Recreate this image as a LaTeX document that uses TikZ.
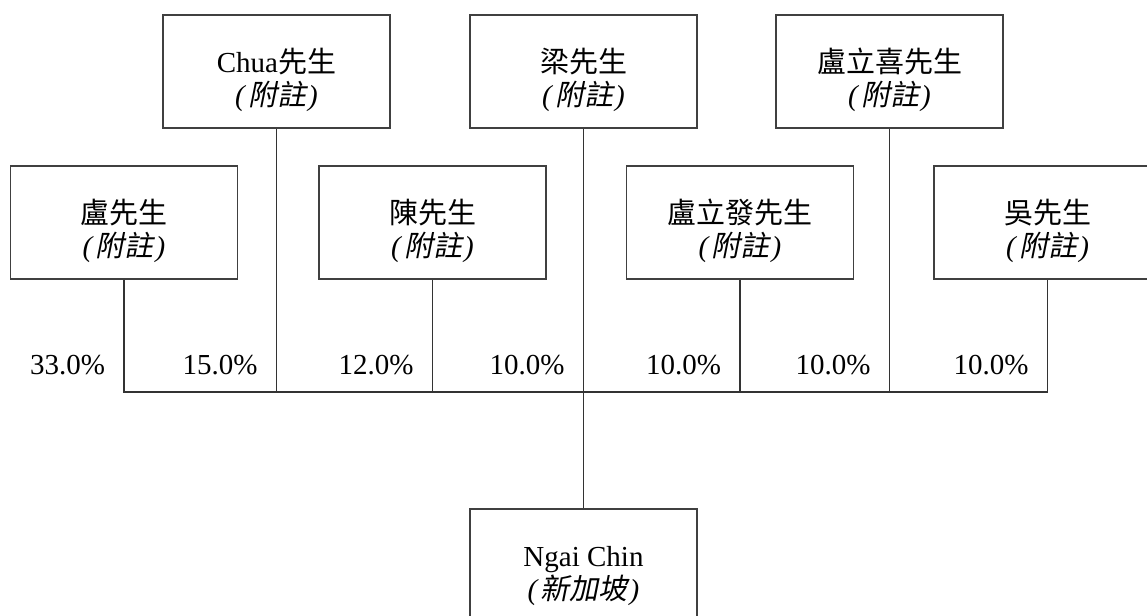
\documentclass[tikz,border=0pt]{standalone}
\usepackage{fontspec}
\setmainfont{Liberation Serif}
\newfontfamily\cjk{Noto Sans CJK TC}
\newfontfamily\cjkit[FakeSlant=0.2]{Noto Sans CJK TC}
\newcommand{\tstrut}{\rule{0pt}{20.5pt}}
\newcommand{\note}{\textit{(}\hspace{1pt}{\cjkit 附註}\hspace{1pt}\textit{)}}
\begin{document}
\begin{tikzpicture}[x=0.5pt, y=-0.5pt,
    % Styles
    holder/.style={draw=black!75, line width=0.65pt, minimum width=113.5pt, minimum height=56.5pt,
                   inner sep=0pt, align=center, font=\fontsize{14.5}{16.5}\selectfont},
    link/.style={draw=black!80, line width=0.6pt},
    pct/.style={anchor=base east, xshift=-6pt, yshift=9pt, font=\fontsize{14.5}{16.5}\selectfont},
  ]
  \useasboundingbox (0,0) rectangle (1147,616);

  % Top row
  \node[holder] (chua) at (276.5, 71.5) {\tstrut Chua{\cjk 先生}\\\note};
  \node[holder] (liang) at (583.5, 71.5) {\tstrut{\cjk 梁先生}\\\note};
  \node[holder] (lux) at (889.5, 71.5) {\tstrut{\cjk 盧立喜先生}\\\note};

  % Second row
  \node[holder] (lu) at (124, 222.5) {\tstrut{\cjk 盧先生}\\\note};
  \node[holder] (chen) at (432.5, 222.5) {\tstrut{\cjk 陳先生}\\\note};
  \node[holder] (luf) at (740, 222.5) {\tstrut{\cjk 盧立發先生}\\\note};
  \node[holder] (wu) at (1047.5, 222.5) {\tstrut{\cjk 吳先生}\\\note};

  % Company
  \node[holder] (ngai) at (583.5, 565.5) {\tstrut Ngai Chin\\\textit{(}\hspace{1pt}{\cjkit 新加坡}\hspace{1pt}\textit{)}};

  % Bus
  \coordinate (bus) at (583.5, 392);
  \draw[link] (lu.south) -- (lu.south |- bus) -- (wu.south |- bus) -- (wu.south);
  \draw[link] (chua.south) -- (chua.south |- bus);
  \draw[link] (chen.south) -- (chen.south |- bus);
  \draw[link] (luf.south) -- (luf.south |- bus);
  \draw[link] (lux.south) -- (lux.south |- bus);
  \draw[link] (liang.south) -- (ngai.north);

  % Shares
  \node[pct] (plu) at (lu.south |- bus) {33.0\%};
  \node[pct] (pchua) at (chua.south |- bus) {15.0\%};
  \node[pct] (pchen) at (chen.south |- bus) {12.0\%};
  \node[pct] (pliang) at (liang.south |- bus) {10.0\%};
  \node[pct] (pluf) at (luf.south |- bus) {10.0\%};
  \node[pct] (plux) at (lux.south |- bus) {10.0\%};
  \node[pct] (pwu) at (wu.south |- bus) {10.0\%};

\end{tikzpicture}
\end{document}
